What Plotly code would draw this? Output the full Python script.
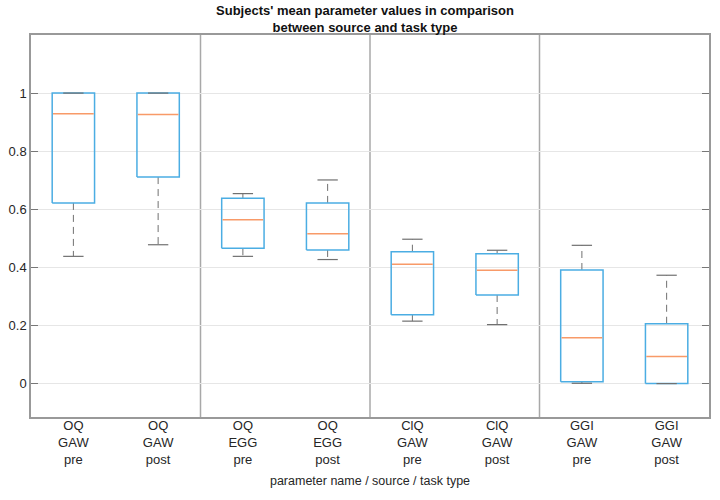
import plotly.graph_objects as go

categories = ["OQ<br>GAW<br>pre", "OQ<br>GAW<br>post", "OQ<br>EGG<br>pre", "OQ<br>EGG<br>post",
              "ClQ<br>GAW<br>pre", "ClQ<br>GAW<br>post", "GGI<br>GAW<br>pre", "GGI<br>GAW<br>post"]
lower_whisker = [0.438, 0.478, 0.438, 0.427, 0.215, 0.203, 0.001, 0.0]
q1_vals       = [0.622, 0.711, 0.466, 0.460, 0.237, 0.305, 0.006, 0.0]
median_vals   = [0.929, 0.926, 0.564, 0.516, 0.411, 0.390, 0.158, 0.093]
q3_vals       = [1.0,   1.0,   0.638, 0.622, 0.454, 0.447, 0.391, 0.206]
upper_whisker = [1.0,   1.0,   0.654, 0.701, 0.497, 0.459, 0.476, 0.373]
group_separators = [1.5, 3.5, 5.5]

BLUE = "#4badE3"
ORANGE = "#f89a68"
GRAY = "#707070"
FONT = "Liberation Sans, Arial, sans-serif"

pos = list(range(len(categories)))
half_box = 0.25
half_cap = 0.12

fig = go.Figure()

# dashed whiskers
wx, wy = [], []
for i in pos:
    wx += [i, i, None, i, i, None]
    wy += [q3_vals[i], upper_whisker[i], None, q1_vals[i], lower_whisker[i], None]
fig.add_trace(go.Scatter(x=wx, y=wy, mode="lines",
                         line=dict(color=GRAY, width=1, dash="7px,5px"),
                         hoverinfo="skip", showlegend=False))

# boxes (outline from q1 to q3)
bx, by = [], []
for i in pos:
    bx += [i - half_box, i + half_box, i + half_box, i - half_box, i - half_box, None]
    by += [q1_vals[i], q1_vals[i], q3_vals[i], q3_vals[i], q1_vals[i], None]
fig.add_trace(go.Scatter(x=bx, y=by, mode="lines", line=dict(color=BLUE, width=1.5),
                         hoverinfo="skip", showlegend=False))

# medians
mx, my = [], []
for i in pos:
    mx += [i - half_box + 0.01, i + half_box - 0.01, None]
    my += [median_vals[i], median_vals[i], None]
fig.add_trace(go.Scatter(x=mx, y=my, mode="lines", line=dict(color=ORANGE, width=1.5),
                         hoverinfo="skip", showlegend=False))

# caps
cx, cy = [], []
for i in pos:
    cx += [i - half_cap, i + half_cap, None, i - half_cap, i + half_cap, None]
    cy += [upper_whisker[i], upper_whisker[i], None, lower_whisker[i], lower_whisker[i], None]
fig.add_trace(go.Scatter(x=cx, y=cy, mode="lines", line=dict(color=GRAY, width=1.2),
                         hoverinfo="skip", showlegend=False))

for s in group_separators:
    fig.add_shape(type="line", x0=s, x1=s, y0=0, y1=1, xref="x", yref="paper",
                  line=dict(color="#a8a8a8", width=1.5), layer="below")

fig.update_layout(
    width=720, height=500,
    margin=dict(l=31, r=9, t=35, b=83),
    paper_bgcolor="white", plot_bgcolor="white",
    font=dict(family=FONT, size=13, color="#262626"),
    title=dict(text="<b>Subjects' mean parameter values in comparison<br>between source and task type</b>",
               x=365 / 720, xref="container", xanchor="center",
               y=0.97, yref="container", yanchor="top",
               font=dict(size=13, color="#111111")),
    xaxis=dict(range=[-0.5, 7.5], tickvals=pos, ticktext=categories,
               showgrid=False, zeroline=False, showline=True, mirror=True,
               linecolor="#999999", linewidth=1.5, ticks="",
               ticklabelstandoff=-4,
               tickfont=dict(size=13, color="#262626"),
               title=dict(text="parameter name / source / task type", standoff=10,
                          font=dict(size=12.5, color="#262626"))),
    yaxis=dict(range=[-0.115, 1.2], tickvals=[0, 0.2, 0.4, 0.6, 0.8, 1],
               ticktext=["0", "0.2", "0.4", "0.6", "0.8", "1"],
               showgrid=True, gridcolor="#e6e6e6", gridwidth=1, zeroline=False,
               showline=True, mirror="ticks", linecolor="#999999", linewidth=1.5,
               ticks="inside", ticklen=7, tickcolor="#777777",
               tickfont=dict(size=13, color="#262626")),
)

fig.write_html("out.html")
